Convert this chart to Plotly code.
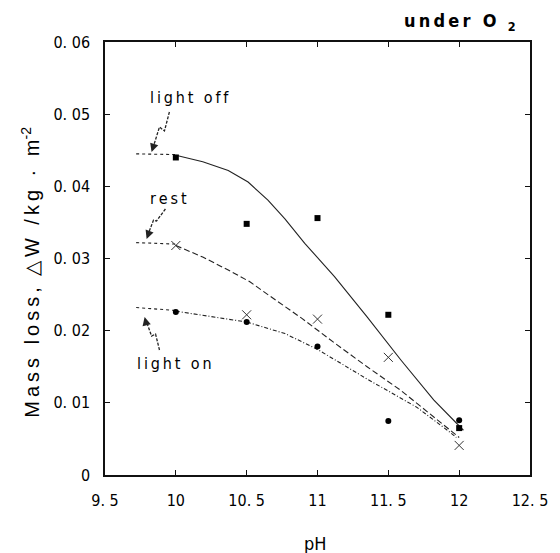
import plotly.graph_objects as go

# ---- data ----
ph = [10.0, 10.5, 11.0, 11.5, 12.0]
light_off = [0.0440, 0.0348, 0.0356, 0.0222, 0.0065]
rest = [0.0318, 0.0222, 0.0216, 0.0163, 0.0041]
light_on = [0.0226, 0.0212, 0.0178, 0.0075, 0.0076]

# fitted curves
off_flat_x = [9.72, 10.0]
off_flat_y = [0.0445, 0.0444]
off_curve_x = [10.0, 10.19, 10.37, 10.51, 10.65, 10.77, 10.91, 11.12, 11.35, 11.59, 11.82, 11.98, 12.03]
off_curve_y = [0.0443, 0.0434, 0.0422, 0.0406, 0.0381, 0.0355, 0.0321, 0.0275, 0.0219, 0.0159, 0.0104, 0.0072, 0.0062]

rest_flat_x = [9.72, 10.0]
rest_flat_y = [0.0322, 0.0320]
rest_curve_x = [10.0, 10.19, 10.37, 10.52, 10.65, 10.89, 11.12, 11.35, 11.59, 11.82, 11.96, 12.0]
rest_curve_y = [0.0318, 0.0302, 0.0284, 0.0268, 0.0250, 0.0217, 0.0183, 0.0150, 0.0117, 0.0081, 0.0058, 0.0052]

on_flat_x = [9.72, 10.0]
on_flat_y = [0.0232, 0.0228]
on_curve_x = [10.0, 10.5, 10.77, 11.0, 11.35, 11.70, 11.93, 11.98]
on_curve_y = [0.0227, 0.0212, 0.0196, 0.0174, 0.0133, 0.0094, 0.0060, 0.0052]

x_ticks = [9.5, 10, 10.5, 11, 11.5, 12, 12.5]
x_ticktext = ["9. 5", "10", "10. 5", "11", "11. 5", "12", "12. 5"]
y_ticks = [0, 0.01, 0.02, 0.03, 0.04, 0.05, 0.06]
y_ticktext = ["0", "0. 01", "0. 02", "0. 03", "0. 04", "0. 05", "0. 06"]

COND = "DejaVu Sans Condensed, Liberation Sans Narrow, DejaVu Sans"
TICKFONT = dict(family=COND, size=16, color="#000")
LABFONT = dict(family=COND, size=16, color="#000")
TS = "\u2009"  # thin space for letter spacing

def spaced(s):
    return TS.join(s).replace(TS + " " + TS, TS + "\u00a0" + TS)

fig = go.Figure()

def line(x, y, dash, width=1.1, color="#222"):
    fig.add_trace(go.Scatter(x=x, y=y, mode="lines", line=dict(color=color, width=width, dash=dash),
                             showlegend=False, hoverinfo="skip"))

line(off_flat_x, off_flat_y, "dot")
line(off_curve_x, off_curve_y, "solid")
line(rest_flat_x, rest_flat_y, "dot")
line(rest_curve_x, rest_curve_y, "6px,3px")
line(on_flat_x, on_flat_y, "dot")
line(on_curve_x, on_curve_y, "4px,2px,1px,2px")

fig.add_trace(go.Scatter(x=ph, y=light_off, mode="markers", marker=dict(symbol="square", size=6, color="#000"),
                         showlegend=False))
fig.add_trace(go.Scatter(x=ph, y=rest, mode="markers",
                         marker=dict(symbol="x-thin", size=9, line=dict(width=1, color="#333")), showlegend=False))
fig.add_trace(go.Scatter(x=ph, y=light_on, mode="markers", marker=dict(symbol="circle", size=6, color="#000"),
                         showlegend=False))

# pixel -> paper helpers for decorative arrows
L, R, T, B = 105, 534, 42, 475
def px(x):
    return (x - L) / (R - L)
def py(y):
    return (B - y) / (B - T)

def bolt(points):
    d = "M " + " L ".join(f"{px(a):.4f},{py(b):.4f}" for a, b in points)
    fig.add_shape(type="path", xref="paper", yref="paper", path=d,
                  line=dict(color="#222", width=1.3, dash="3px,1.5px"))

def head(tip, tail):
    fig.add_annotation(xref="paper", yref="paper", x=px(tip[0]), y=py(tip[1]),
                       ax=tail[0] - tip[0], ay=tail[1] - tip[1], axref="pixel", ayref="pixel",
                       showarrow=True, arrowhead=2, arrowsize=1.3, arrowwidth=1.3, arrowcolor="#222", text="")

# light off
bolt([(170, 112), (165, 131), (160, 127), (154, 146)])
head((152, 152), (155, 143))
# rest
bolt([(166, 209), (157, 221), (154, 220), (149, 233)])
head((147, 239), (150, 231))
# light on
bolt([(160, 350), (156, 334), (152, 336), (147, 322)])
head((145, 317), (147, 325))

def text(x, y, s, font, **kw):
    fig.add_annotation(xref="paper", yref="paper", x=px(x), y=py(y), text=s, showarrow=False,
                       xanchor=kw.pop("xanchor", "center"), yanchor="middle", font=font, **kw)

text(190, 98, spaced("light off"), LABFONT)
text(169, 198, spaced("rest"), LABFONT)
text(175, 363, spaced("light on"), LABFONT)

text(522, 22, "<b>" + spaced("under O") + "\u00a0\u00a0<sub>2</sub></b>",
     dict(family=COND, size=18, color="#000"), xanchor="right")

text(317, 543, "pH", dict(family=COND, size=18, color="#000"))
text(29, 272, spaced("Mass loss,") + "\u00a0\u00a0" + spaced("△W /kg · m") + "<sup>-2</sup>",
     dict(family="Liberation Sans, Arial", size=20, color="#000"), textangle=-90)

axis_common = dict(showline=True, linecolor="#111", linewidth=1.5, mirror="ticks", ticks="inside",
                   ticklen=5, tickwidth=1, tickcolor="#111", showgrid=False, zeroline=False, tickfont=TICKFONT)

fig.update_xaxes(range=[9.5, 12.5], tickvals=x_ticks, ticktext=x_ticktext, ticklabelstandoff=10, **axis_common)
fig.update_yaxes(range=[0, 0.06], tickvals=y_ticks, ticktext=y_ticktext, ticklabelstandoff=10, **axis_common)

fig.update_layout(width=560, height=553, margin=dict(l=L, r=560 - R, t=T, b=553 - B),
                  paper_bgcolor="white", plot_bgcolor="white")

fig.write_html("out.html")
